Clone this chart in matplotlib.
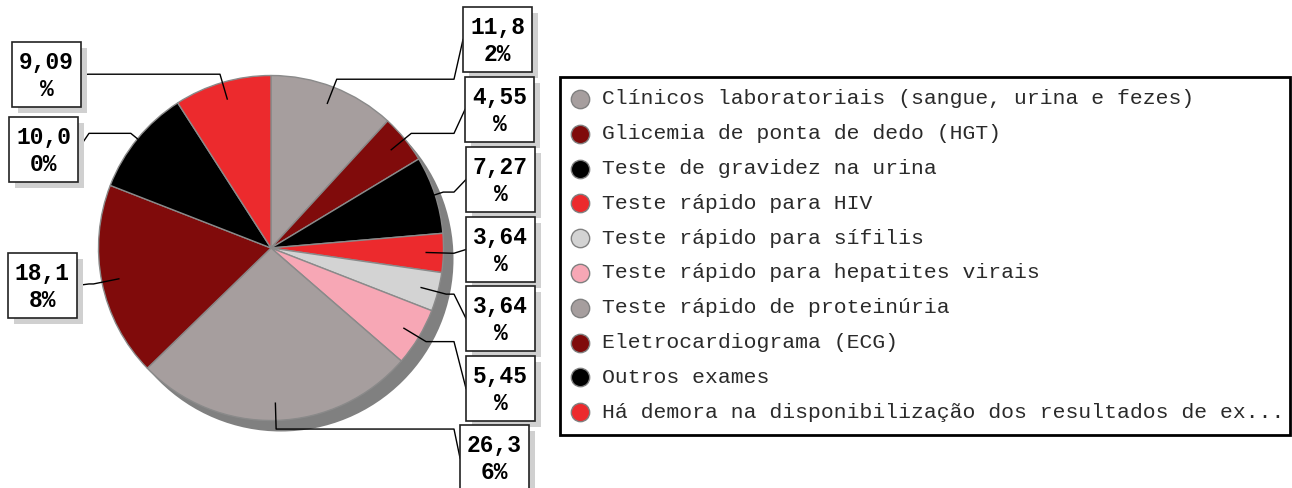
import numpy as np
import matplotlib
matplotlib.use("Agg")
import matplotlib.pyplot as plt
from matplotlib.patches import Circle, Rectangle

# data
categorias = [
    "Clínicos laboratoriais (sangue, urina e fezes)",
    "Glicemia de ponta de dedo (HGT)",
    "Teste de gravidez na urina",
    "Teste rápido para HIV",
    "Teste rápido para sífilis",
    "Teste rápido para hepatites virais",
    "Teste rápido de proteinúria",
    "Eletrocardiograma (ECG)",
    "Outros exames",
    "Há demora na disponibilização dos resultados de ex...",
]
valores = [11.82, 4.55, 7.27, 3.64, 3.64, 5.45, 26.36, 18.18, 10.00, 9.09]
cores = ["#A69E9E", "#800B0B", "#000000", "#EC2A2D", "#D3D3D3",
         "#F7A7B5", "#A69E9E", "#800B0B", "#000000", "#EC2A2D"]

# label boxes (left, top) in pixels, y going down
caixas = [(463, 7), (465, 77), (466, 147), (466, 217), (466, 286),
          (466, 356), (460, 425), (8, 253), (9, 117), (12, 42)]
BW, BH = 69, 65

W, H = 1292, 488
cx, cy, R = 271, 248, 172.5

fig = plt.figure(figsize=(W / 100, H / 100), dpi=100)
ax = fig.add_axes([0, 0, 1, 1])

# 3d-ish shadow under the pie
ax.add_patch(Circle((cx + 10, cy + 11), R, facecolor="#808080", edgecolor="none", zorder=0.5))

# y axis is inverted, so counterclock=True in data = clockwise on screen
ax.pie(valores, colors=cores, startangle=-90, counterclock=True,
       center=(cx, cy), radius=R,
       wedgeprops=dict(edgecolor="#8a8a8a", linewidth=1))

cum = np.cumsum([0] + valores[:-1])
for i, v in enumerate(valores):
    phi = np.deg2rad(-90 + 360 * (cum[i] + v / 2) / 100)
    x1, y1 = cx + 0.9 * R * np.cos(phi), cy + 0.9 * R * np.sin(phi)
    x2, y2 = cx + 1.05 * R * np.cos(phi), cy + 1.05 * R * np.sin(phi)
    bx, by = caixas[i]
    direita = bx > cx
    if direita:
        x3 = 454
        x4 = bx
    else:
        x3 = 89
        x4 = bx + BW
    y4 = by + BH / 2 if i != 6 else by + 33
    ax.plot([x1, x2, x3, x4], [y1, y2, y2, y4], color="black", lw=1, zorder=5)

    # box with shadow
    ax.add_patch(Rectangle((bx + 6, by + 6), BW, BH, facecolor="#D0D0D0",
                           edgecolor="none", zorder=6))
    ax.add_patch(Rectangle((bx, by), BW, BH, facecolor="white",
                           edgecolor="#222222", lw=1.2, zorder=7))
    s = f"{v:.2f}".replace(".", ",") + "%"
    ax.text(bx + BW / 2, by + 27, s[:4], ha="center", va="baseline",
            family="Liberation Mono", weight="bold", fontsize=16.5, zorder=8)
    ax.text(bx + BW / 2, by + 54, s[4:], ha="center", va="baseline",
            family="Liberation Mono", weight="bold", fontsize=16.5, zorder=8)

# legend
ax.add_patch(Rectangle((560, 77), 730, 358, facecolor="white",
                       edgecolor="black", lw=2, zorder=3))
for i, (nome, cor) in enumerate(zip(categorias, cores)):
    yy = 99 + i * 34.8
    ax.scatter([580], [yy], s=175, color=cor, edgecolors="#808080",
               linewidths=1, zorder=4)
    ax.text(602, yy, nome, va="center", ha="left", family="Liberation Mono",
            fontsize=15.4, color="#2a2a2a", zorder=4)

ax.set_xlim(0, W)
ax.set_ylim(H, 0)
ax.axis("off")

fig.savefig("out.png", dpi=100)
